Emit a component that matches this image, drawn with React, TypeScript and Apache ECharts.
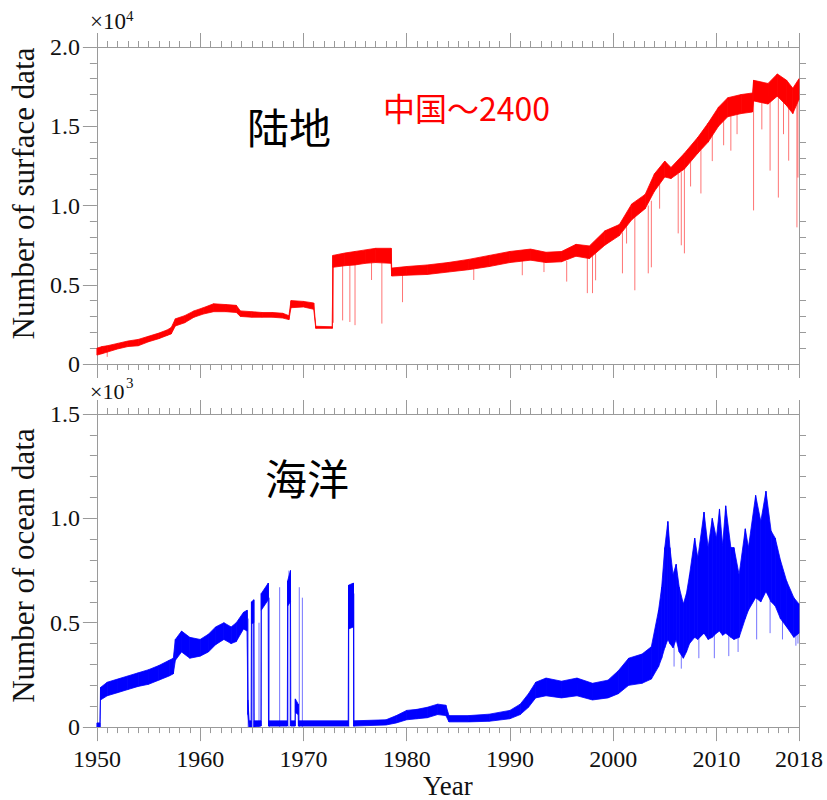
import React, { useEffect, useRef } from "react";
import * as echarts from "echarts";

const YEAR_MIN = 1950;
const YEAR_MAX = 2018;

// Land (surface) data: [year, low, high] of the noisy trace
const landBand: [number, number, number][] = [
  [1950.0, 560, 1000], [1950.5, 650, 1100], [1951.0, 750, 1150], [1952.0, 950, 1300],
  [1953.0, 1100, 1450], [1954.0, 1150, 1550], [1955.0, 1400, 1750], [1956.0, 1600, 1950],
  [1956.8, 1800, 2150], [1957.2, 1900, 2300], [1957.6, 2400, 2850], [1958.5, 2600, 3050],
  [1959.4, 2950, 3350], [1960.3, 3150, 3550], [1961.3, 3300, 3800], [1962.5, 3300, 3750],
  [1963.5, 3250, 3700], [1963.9, 3000, 3350], [1965.0, 2950, 3300], [1966.0, 2950, 3250],
  [1967.0, 2950, 3250], [1968.0, 2900, 3200], [1968.6, 2800, 3050], [1968.8, 3550, 4000],
  [1970.0, 3600, 3950], [1971.0, 3450, 3850], [1971.2, 2250, 2380], [1972.8, 2250, 2350],
  [1972.85, 6100, 6850], [1974.0, 6200, 7000], [1975.0, 6250, 7100], [1976.0, 6350, 7200],
  [1977.0, 6400, 7300], [1978.5, 6350, 7300], [1978.55, 5550, 6050], [1980.0, 5600, 6150],
  [1982.0, 5650, 6250], [1984.0, 5800, 6400], [1986.0, 5950, 6600], [1988.0, 6150, 6850],
  [1990.0, 6400, 7100], [1992.0, 6550, 7250], [1993.5, 6400, 7050], [1995.0, 6450, 7100],
  [1996.4, 6800, 7550], [1997.7, 6650, 7450], [1999.2, 7500, 8400], [2000.6, 8100, 8800],
  [2001.8, 9100, 10100], [2003.1, 9800, 10700], [2004.0, 10900, 12000], [2005.0, 11800, 12800],
  [2005.6, 11700, 12400], [2006.9, 12300, 13300], [2008.2, 13300, 14300], [2009.2, 14000, 15200],
  [2010.2, 15000, 16200], [2011.1, 15600, 16800], [2012.4, 15800, 17000], [2013.5, 15900, 17100],
  [2013.6, 16600, 17900], [2015.0, 16400, 17700], [2015.9, 16900, 18300], [2016.8, 16300, 17900],
  [2017.4, 15800, 17400], [2018.0, 16700, 18000],
];

// Land single-sample drops: [year, bottom, top]
const landDips: [number, number, number][] = [
  [1951.0, 450, 800], [1972.9, 2600, 6200], [1973.8, 2750, 6300], [1974.5, 2650, 6300],
  [1975.0, 2450, 6300], [1976.6, 5300, 6400], [1977.6, 2550, 6400], [1979.6, 3900, 5700],
  [1986.5, 5300, 6000], [1991.2, 5600, 6500], [1993.3, 5800, 6450], [1995.5, 5200, 6500],
  [1997.5, 4470, 6700], [1998.0, 4470, 6900], [1998.3, 5280, 7000], [2000.9, 5720, 8300],
  [2001.3, 7600, 9000], [2002.1, 4650, 9300], [2003.4, 5720, 10000], [2003.7, 6100, 10300],
  [2004.5, 9800, 11500], [2006.3, 8240, 12000], [2006.6, 7490, 12100], [2006.9, 6980, 12300],
  [2007.5, 11200, 12800], [2008.5, 10760, 13500], [2009.6, 12800, 14500], [2010.7, 13800, 15400],
  [2011.4, 13460, 15700], [2012.0, 14500, 15800], [2013.6, 9690, 16700], [2014.4, 14800, 16500],
  [2015.2, 12200, 16600], [2016.0, 10500, 17000], [2016.5, 14500, 16800], [2017.0, 12830, 16400],
  [2017.8, 8620, 16500], [2017.9, 11760, 16600],
];

// Ocean data: [year, low, high]
const oceanBand: [number, number, number][] = [
  [1950.0, 0, 20], [1950.3, 0, 20], [1950.35, 130, 190], [1951.0, 150, 215],
  [1952.0, 165, 230], [1953.0, 180, 245], [1954.0, 195, 260], [1955.0, 205, 275],
  [1956.0, 225, 295], [1957.0, 245, 320], [1957.4, 255, 330], [1957.6, 320, 420],
  [1958.2, 360, 460], [1959.0, 330, 430], [1960.0, 340, 420], [1960.8, 360, 445],
  [1961.5, 395, 480], [1962.3, 420, 500], [1963.0, 400, 480], [1963.5, 410, 500],
  [1964.2, 470, 550], [1964.55, 460, 560], [1964.62, 60, 130], [1964.75, 0, 30],
  [1964.95, 0, 30], [1964.97, 495, 600], [1965.2, 500, 610], [1965.22, 0, 30],
  [1965.9, 5, 30], [1965.92, 560, 640], [1966.6, 610, 690], [1966.62, 5, 30],
  [1968.45, 5, 30], [1968.47, 580, 700], [1968.75, 600, 750], [1968.77, 5, 30],
  [1969.2, 5, 30], [1969.22, 70, 135], [1969.5, 60, 110], [1969.52, 5, 30],
  [1974.35, 5, 30], [1974.37, 470, 680], [1974.85, 480, 690], [1974.87, 5, 30],
  [1978.0, 10, 35], [1979.0, 20, 55], [1980.0, 35, 80], [1981.0, 40, 85],
  [1982.0, 45, 95], [1983.0, 60, 110], [1983.8, 55, 105], [1984.1, 25, 55],
  [1986.0, 25, 55], [1988.0, 28, 62], [1990.0, 40, 80], [1991.0, 60, 110],
  [1991.8, 95, 160], [1992.5, 140, 215], [1993.5, 150, 235], [1995.0, 140, 220],
  [1996.5, 150, 235], [1998.0, 130, 210], [1999.5, 140, 225], [2000.5, 160, 270],
  [2001.5, 200, 330], [2002.8, 210, 350], [2003.7, 230, 385], [2004.4, 290, 560],
  [2004.7, 330, 670], [2005.0, 380, 860], [2005.3, 420, 985], [2005.5, 400, 860],
  [2005.8, 380, 730], [2006.1, 420, 780], [2006.4, 360, 670], [2006.8, 330, 590],
  [2007.1, 360, 640], [2007.4, 400, 730], [2007.9, 430, 905], [2008.2, 420, 810],
  [2008.8, 450, 1030], [2009.2, 420, 860], [2009.6, 430, 1000], [2010.0, 450, 905],
  [2010.3, 460, 1045], [2010.6, 440, 870], [2010.9, 450, 1060], [2011.4, 430, 860],
  [2011.7, 420, 860], [2012.2, 430, 730], [2012.8, 520, 950], [2013.1, 560, 860],
  [2013.8, 620, 1110], [2014.3, 600, 985], [2014.8, 650, 1130], [2015.3, 600, 940],
  [2015.7, 580, 905], [2016.2, 520, 800], [2016.8, 480, 700], [2017.5, 430, 620],
  [2018.0, 450, 590],
];

// Ocean single-sample spikes: [year, low, high]
const oceanSpikes: [number, number, number][] = [
  [1964.65, 0, 520], [1965.1, 0, 500], [1965.7, 0, 500], [1966.7, 0, 620],
  [1967.7, 0, 670], [1968.6, 0, 750], [1969.6, 0, 670], [1969.9, 0, 620],
  [1974.4, 0, 650], [1974.9, 0, 640],
  [2005.9, 290, 450], [2006.6, 280, 400], [2008.3, 330, 480], [2009.8, 330, 450],
  [2011.2, 340, 470], [2012.1, 360, 460], [2013.9, 420, 700], [2015.2, 450, 650],
  [2016.4, 420, 560], [2017.7, 390, 500], [2017.9, 400, 490],
];

const AXIS_COLOR = "#9a9a9a";
const SERIF = "Liberation Serif";
const CJK = "Noto Sans CJK SC";

function xAxesFor(gridIndex: number, labels: boolean) {
  const common = {
    type: "value" as const,
    gridIndex,
    min: YEAR_MIN,
    max: YEAR_MAX,
    splitLine: { show: false },
  };
  const major = (position: string) => ({
    ...common,
    position,
    interval: 10,
    axisLine: { show: true, onZero: false, lineStyle: { color: AXIS_COLOR, width: 1 } },
    axisTick: { show: true, length: 14, lineStyle: { color: AXIS_COLOR, width: 1 } },
    axisLabel:
      labels && position === "bottom"
        ? {
            show: true,
            showMinLabel: true,
            showMaxLabel: true,
            margin: 20,
            color: "#111",
            fontSize: 24,
            fontFamily: SERIF,
            formatter: (v: number) => String(v),
          }
        : { show: false },
    ...(labels && position === "bottom"
      ? {
          name: "Year",
          nameLocation: "middle",
          nameGap: 36,
          nameTextStyle: { color: "#111", fontSize: 27, fontFamily: SERIF, verticalAlign: "top" },
        }
      : {}),
  });
  const minor = (position: string) => ({
    ...common,
    position,
    interval: 1,
    axisLine: { show: false, onZero: false },
    axisTick: { show: true, length: 6, lineStyle: { color: AXIS_COLOR, width: 1 } },
    axisLabel: { show: false },
  });
  return [major("bottom"), minor("bottom"), major("top"), minor("top")];
}

function yAxesFor(
  gridIndex: number,
  max: number,
  interval: number,
  scale: number,
  name: string,
  shift: number
) {
  return [
    {
      type: "value",
      gridIndex,
      position: "left",
      min: 0,
      max,
      interval,
      splitLine: { show: false },
      axisLine: { show: true, lineStyle: { color: AXIS_COLOR, width: 1 } },
      axisTick: { show: true, length: 14, lineStyle: { color: AXIS_COLOR, width: 1 } },
      minorTick: { show: true, splitNumber: 5, length: 7, lineStyle: { color: AXIS_COLOR, width: 1 } },
      axisLabel: {
        margin: 17,
        color: "#111",
        fontSize: 24,
        fontFamily: SERIF,
        formatter: (v: number) => (v === 0 ? "0" : (v / scale).toFixed(1)),
      },
      name,
      nameLocation: "middle",
      nameGap: 55,
      nameTextStyle: { color: "#111", fontSize: 31, fontFamily: SERIF, padding: [0, 0, 0, shift] },
    },
    {
      type: "value",
      gridIndex,
      position: "right",
      min: 0,
      max,
      interval,
      splitLine: { show: false },
      axisLine: { show: true, lineStyle: { color: AXIS_COLOR, width: 1 } },
      axisTick: { show: false },
      minorTick: { show: true, splitNumber: 5, length: 7, lineStyle: { color: AXIS_COLOR, width: 1 } },
      axisLabel: { show: false },
    },
  ];
}

// Band drawn as one quad per pair of consecutive readings
function bandSeries(
  band: [number, number, number][],
  xAxisIndex: number,
  yAxisIndex: number,
  color: string
) {
  const segs = band.slice(0, -1).map((p, i) => {
    const q = band[i + 1];
    return [p[0], p[1], p[2], q[0], q[1], q[2]];
  });
  return {
    type: "custom",
    xAxisIndex,
    yAxisIndex,
    silent: true,
    clip: true,
    encode: { x: [0, 3], y: [1, 2, 4, 5] },
    data: segs,
    renderItem: (_params: any, api: any) => {
      const a = api.coord([api.value(0), api.value(1)]);
      const b = api.coord([api.value(0), api.value(2)]);
      const c = api.coord([api.value(3), api.value(5)]);
      const d = api.coord([api.value(3), api.value(4)]);
      return {
        type: "polygon",
        shape: { points: [a, b, c, d] },
        style: { fill: color, stroke: color, lineWidth: 0.8 },
      };
    },
  };
}

function spikeSeries(
  spikes: [number, number, number][],
  xAxisIndex: number,
  yAxisIndex: number,
  color: string
) {
  return {
    type: "custom",
    xAxisIndex,
    yAxisIndex,
    silent: true,
    clip: true,
    encode: { x: 0, y: [1, 2] },
    data: spikes,
    renderItem: (_params: any, api: any) => {
      const p1 = api.coord([api.value(0), api.value(1)]);
      const p2 = api.coord([api.value(0), api.value(2)]);
      return {
        type: "line",
        shape: { x1: p1[0], y1: p1[1], x2: p2[0], y2: p2[1] },
        style: { stroke: color, lineWidth: 1, opacity: 0.55 },
      };
    },
  };
}

export default function App() {
  const ref = useRef<HTMLDivElement | null>(null);

  useEffect(() => {
    if (!ref.current) return;
    const chart = echarts.init(ref.current, undefined, { renderer: "svg" });
    const option: any = {
      animation: false,
      backgroundColor: "#ffffff",
      grid: [
        { left: 90, right: 28, top: 47, height: 317 },
        { left: 90, right: 28, top: 414, height: 318 },
      ],
      xAxis: [...xAxesFor(0, false), ...xAxesFor(1, true)],
      yAxis: [
        ...yAxesFor(0, 20000, 5000, 10000, "Number of surface data", 24),
        ...yAxesFor(1, 1500, 500, 1000, "Number of ocean data", 10),
      ],
      series: [
        spikeSeries(landDips, 0, 0, "#ff0000"),
        bandSeries(landBand, 0, 0, "#ff0000"),
        spikeSeries(oceanSpikes, 4, 2, "#0000ff"),
        bandSeries(oceanBand, 4, 2, "#0000ff"),
      ],
      graphic: [
        { type: "text", left: 90, top: 10, style: { text: "×10", font: `23px '${SERIF}'`, fill: "#111" } },
        { type: "text", left: 126, top: 8, style: { text: "4", font: `15px '${SERIF}'`, fill: "#111" } },
        { type: "text", left: 90, top: 380, style: { text: "×10", font: `22px '${SERIF}'`, fill: "#111" } },
        { type: "text", left: 126, top: 375, style: { text: "3", font: `15px '${SERIF}'`, fill: "#111" } },
        { type: "text", left: 247, top: 104, style: { text: "陆地", font: `42px '${CJK}'`, fill: "#000" } },
        { type: "text", left: 383, top: 91, style: { text: "中国～2400", font: `32px '${CJK}'`, fill: "#ff0000" } },
        { type: "text", left: 265, top: 455, style: { text: "海洋", font: `42px '${CJK}'`, fill: "#000" } },
      ],
    };
    chart.setOption(option);
    return () => chart.dispose();
  }, []);

  return (
    <div
      ref={ref}
      style={{ position: "fixed", left: 0, top: 0, width: 827, height: 800, background: "#fff" }}
    />
  );
}
